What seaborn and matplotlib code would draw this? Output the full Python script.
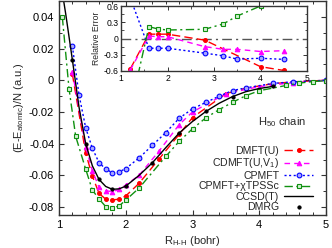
import matplotlib
matplotlib.use("Agg")
import matplotlib.pyplot as plt
import seaborn as sns
import numpy as np
from matplotlib.ticker import MultipleLocator, FuncFormatter

# ---------------- data ----------------
r_dmft = [1.2, 1.4, 1.5, 1.6, 1.7, 1.8, 1.9, 2.0, 2.2, 2.5, 2.8, 3.0, 3.5, 3.8, 4.2, 4.5, 5.0]
e_dmft = [0.004, -0.046, -0.0605, -0.0714, -0.075, -0.0755, -0.075, -0.073, -0.065, -0.0496,
          -0.0342, -0.0235, -0.0085, -0.005, -0.0022, -0.001, 0.0]

r_cdmft = [1.2, 1.4, 1.5, 1.6, 1.7, 1.8, 1.9, 2.0, 2.2, 2.5, 2.8, 3.0, 3.5, 4.0, 4.5, 5.0]
e_cdmft = [0.0055, -0.042, -0.057, -0.0676, -0.0697, -0.0703, -0.0688, -0.0661, -0.060, -0.0446,
           -0.028, -0.020, -0.0085, -0.004, -0.0015, 0.0]

r_cpmft = [1.2, 1.3, 1.4, 1.5, 1.6, 1.7, 1.8, 1.9, 2.0, 2.2, 2.4, 2.6, 2.8, 3.0, 3.2, 3.4,
           3.6, 3.8, 4.2, 4.5, 5.0]
e_cpmft = [0.0216, -0.0093, -0.030, -0.043, -0.052, -0.056, -0.0584, -0.0578, -0.0557, -0.049,
           -0.041, -0.033, -0.024, -0.018, -0.014, -0.010, -0.0065, -0.0048, -0.002, -0.001, 0.0]

r_chi = [1.05, 1.15, 1.25, 1.4, 1.5, 1.6, 1.7, 1.8, 1.9, 2.0, 2.2, 2.6, 2.8, 3.0, 3.2, 3.4,
         3.6, 3.8, 4.0, 4.4, 4.6, 4.8, 5.0]
e_chi = [0.0398, -0.0053, -0.0354, -0.0561, -0.0693, -0.0749, -0.0797, -0.0806, -0.0793,
         -0.0756, -0.068, -0.048, -0.0386, -0.0306, -0.0237, -0.0185, -0.0139, -0.0097,
         -0.0066, -0.0033, -0.0018, -0.0008, -0.0003]

r_ccsd = [1.07, 1.1, 1.2, 1.3, 1.4, 1.5, 1.6, 1.7, 1.8, 1.9, 2.0, 2.2, 2.4, 2.6, 2.8, 3.0,
          3.2, 3.4, 3.6, 3.8, 4.0, 4.2]
e_ccsd = [0.050, 0.042, 0.013, -0.017, -0.040, -0.054, -0.0626, -0.067, -0.0688, -0.0685,
          -0.0668, -0.060, -0.052, -0.0425, -0.0333, -0.026, -0.0197, -0.0145, -0.0103,
          -0.0072, -0.0052, -0.0039]

r_dmrg = [1.2, 1.4, 1.6, 1.8, 2.0, 2.4, 2.8, 3.2, 3.6, 4.2]
e_dmrg = [0.013, -0.040, -0.0626, -0.0688, -0.0668, -0.052, -0.0333, -0.0197, -0.0103, -0.0039]

# inset: relative error
ri_dmft = [1.2, 1.6, 1.8, 2.0, 2.8, 4.0, 4.5]
rel_dmft = [-0.56, 0.08, 0.08, 0.08, -0.03, -0.52, -0.59]
ri_cdmft = [1.2, 1.6, 1.8, 2.0, 2.8, 3.2, 3.5, 4.0, 4.5]
rel_cdmft = [-0.58, 0.046, 0.033, 0.033, -0.15, -0.20, -0.20, -0.24, -0.225]
ri_cpmft = [1.2, 1.6, 1.8, 2.0, 2.8, 3.2, 3.5, 4.0, 4.5]
rel_cpmft = [0.75, -0.18, -0.18, -0.18, -0.27, -0.32, -0.38, -0.365, -0.385]
ri_chi = [1.2, 1.6, 1.8, 2.0, 2.8, 3.2, 3.5, 4.0]
rel_chi = [-1.3, 0.218, 0.175, 0.157, 0.17, 0.27, 0.415, 0.6]

labels = ["DMFT(U)", "CDMFT(U,V$_1$)", "CPMFT", "CPMFT+χTPSSc", "CCSD(T)", "DMRG"]

# ---------------- style ----------------
sns.set_style("ticks")
plt.rcParams["font.family"] = ["Liberation Sans", "DejaVu Sans"]
plt.rcParams["mathtext.fontset"] = "custom"
plt.rcParams["mathtext.rm"] = "Liberation Sans"
plt.rcParams["mathtext.it"] = "Liberation Sans:italic"
plt.rcParams["axes.unicode_minus"] = False
plt.rcParams["xtick.direction"] = "in"
plt.rcParams["ytick.direction"] = "in"

RED, MAG, BLUE, GREEN = "#ff0000", "#ff00ff", "#0000ff", "#109010"
FRAME = "#333333"

styles = [
    dict(color=RED, dashes=(6, 3), marker="o", ms=2.8, mfc=RED, mec=RED),
    dict(color=MAG, dashes=(4, 3), marker="^", ms=3.3, mfc=MAG, mec=MAG),
    dict(color=BLUE, dashes=(1.5, 1.8), marker="o", ms=3.4, mfc="#a8a8ff", mec=BLUE, mew=0.8),
    dict(color=GREEN, dashes=(6, 2.5, 1.5, 2.5), marker="s", ms=3.2, mfc="#d4f0d4", mec=GREEN, mew=0.8),
]

fig = plt.figure(figsize=(3.32, 2.48), dpi=100)
ax = fig.add_axes([59 / 332, 33 / 248, 267 / 332, 214 / 248])

series = [(r_dmft, e_dmft), (r_cdmft, e_cdmft), (r_cpmft, e_cpmft), (r_chi, e_chi)]
for (rx, ey), st, lab in zip(series, styles, labels[:4]):
    sns.lineplot(x=rx, y=ey, ax=ax, label=lab, lw=1.0, sort=False, estimator=None, **st)
sns.lineplot(x=r_ccsd, y=e_ccsd, ax=ax, color="black", lw=1.0, label=labels[4],
             sort=False, estimator=None)
sns.lineplot(x=r_dmrg, y=e_dmrg, ax=ax, color="black", linestyle="none", marker="o",
             ms=2.3, mec="black", label=labels[5], sort=False, estimator=None)

ax.set_xlim(1, 5)
ax.set_ylim(-0.085, 0.05)
ax.xaxis.set_major_locator(MultipleLocator(1))
ax.xaxis.set_minor_locator(MultipleLocator(0.2))
ax.yaxis.set_major_locator(MultipleLocator(0.02))
ax.yaxis.set_minor_locator(MultipleLocator(0.01))
ax.yaxis.set_major_formatter(FuncFormatter(lambda v, p: "%g" % round(v, 4)))
ax.tick_params(which="both", top=True, right=True, colors=FRAME, labelcolor="black",
               labelsize=8)
ax.tick_params(which="major", length=3.5, width=0.8)
ax.tick_params(which="minor", length=2, width=0.7)
for s in ax.spines.values():
    s.set_color(FRAME)
    s.set_linewidth(1.0)
ax.set_xlabel("R$_{\\mathrm{H\u2010H}}$ (bohr)", fontsize=8, labelpad=3)
ax.set_ylabel("(E-E$_{\\mathrm{atomic}}$)/N (a.u.)", fontsize=8, labelpad=2)

ax.text(0.925, 0.435, "H$_{50}$ chain", transform=ax.transAxes, ha="right", va="center",
        fontsize=8)

leg = ax.legend(loc="lower right", bbox_to_anchor=(0.951, 0.012), frameon=False,
                markerfirst=False, fontsize=7.6, handlelength=2.7, handletextpad=0.5,
                labelspacing=0.05, borderpad=0, borderaxespad=0)

# ---------------- inset ----------------
axi = fig.add_axes([121 / 332, (248 - 71) / 248, 186 / 332, 65 / 248])
axi.set_facecolor("white")
axi.axhline(0, color="#555555", lw=1.0, dashes=(7, 3, 1.5, 3))
iseries = [(ri_dmft, rel_dmft), (ri_cdmft, rel_cdmft), (ri_cpmft, rel_cpmft), (ri_chi, rel_chi)]
for (rx, ey), st in zip(iseries, styles):
    sns.lineplot(x=rx, y=ey, ax=axi, lw=1.0, sort=False, estimator=None, legend=False, **st)
axi.set_xlim(1, 5)
axi.set_ylim(-0.6, 0.6)
axi.xaxis.set_major_locator(MultipleLocator(1))
axi.xaxis.set_minor_locator(MultipleLocator(0.5))
axi.yaxis.set_major_locator(MultipleLocator(0.3))
axi.yaxis.set_minor_locator(MultipleLocator(0.15))
axi.yaxis.set_major_formatter(FuncFormatter(lambda v, p: "%g" % round(v, 3)))
axi.tick_params(which="both", top=True, right=True, colors=FRAME, labelcolor="black",
                labelsize=6.2, pad=2)
axi.tick_params(which="major", length=3, width=0.7)
axi.tick_params(which="minor", length=1.8, width=0.6)
for s in axi.spines.values():
    s.set_color(FRAME)
    s.set_linewidth(1.0)
axi.set_ylabel("Relative Error", fontsize=6.2, labelpad=2)
axi.set_xlabel("")

fig.savefig("out.png", dpi=100)
